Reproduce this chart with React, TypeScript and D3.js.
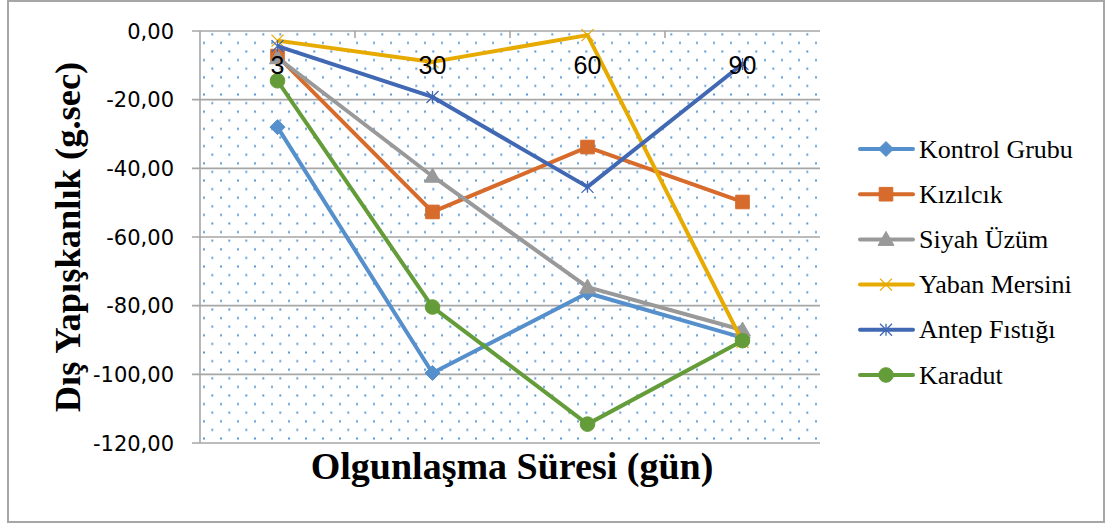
import React from 'react';
import * as d3 from 'd3';

const categories = ['3', '30', '60', '90'];
const seriesNames = ['Kontrol Grubu', 'Kızılcık', 'Siyah Üzüm', 'Yaban Mersini', 'Antep Fıstığı', 'Karadut'];
const kontrolGrubu = [-28.0, -99.6, -76.3, -89.3];
const kizilcik = [-7.3, -52.7, -33.8, -49.8];
const siyahUzum = [-7.8, -42.3, -74.6, -87.1];
const yabanMersini = [-2.8, -9.0, -1.2, -90.5];
const antepFistigi = [-4.4, -19.2, -45.4, -9.6];
const karadut = [-14.5, -80.4, -114.5, -90.2];
const yTicks = [0, -20, -40, -60, -80, -100, -120];

const seriesValues = [kontrolGrubu, kizilcik, siyahUzum, yabanMersini, antepFistigi, karadut];
const colors = ['#5590cc', '#d66b2b', '#999999', '#e6aa00', '#4168b3', '#639c38'];
const markerTypes = ['diamond', 'square', 'triangle', 'x', 'star', 'circle'];

const W = 1105, H = 526;
const plot = { left: 200, right: 820, top: 31, bottom: 443 };

function markerPath(type: string): string {
  const p = d3.path();
  switch (type) {
    case 'diamond': {
      const s = 7.5;
      p.moveTo(0, -s); p.lineTo(s, 0); p.lineTo(0, s); p.lineTo(-s, 0); p.closePath(); break;
    }
    case 'square': {
      const s = 6.8;
      p.rect(-s, -s, 2 * s, 2 * s); break;
    }
    case 'triangle': {
      const s = 8;
      p.moveTo(0, -s); p.lineTo(s, s * 0.75); p.lineTo(-s, s * 0.75); p.closePath(); break;
    }
    case 'circle':
      p.arc(0, 0, 7.3, 0, Math.PI * 2); break;
    case 'x': {
      const s = 6;
      p.moveTo(-s, -s); p.lineTo(s, s); p.moveTo(s, -s); p.lineTo(-s, s); break;
    }
    case 'star': {
      const s = 6;
      p.moveTo(-s, -s); p.lineTo(s, s); p.moveTo(s, -s); p.lineTo(-s, s); p.moveTo(0, -s); p.lineTo(0, s); break;
    }
  }
  return p.toString();
}

function Marker({ type, color, x, y }: { type: string; color: string; x: number; y: number }) {
  const stroked = type === 'x' || type === 'star';
  return (
    <path
      d={markerPath(type)}
      transform={`translate(${x},${y})`}
      fill={stroked ? 'none' : color}
      stroke={color}
      strokeWidth={stroked ? 1.3 : 1}
    />
  );
}

export default function App() {
  const x = d3.scaleBand<string>().domain(categories).range([plot.left, plot.right]);
  const cx = (c: string) => (x(c) as number) + x.bandwidth() / 2;
  const y = d3.scaleLinear().domain([-120, 0]).range([plot.bottom, plot.top]);
  const line = d3.line<[number, number]>().x(d => d[0]).y(d => d[1]);
  const fmt = (v: number) => v.toFixed(2).replace('.', ',');

  return (
    <svg width={W} height={H} style={{ position: 'absolute', left: 0, top: 0, background: '#fff' }}>
      <defs>
        <pattern id="dots" patternUnits="userSpaceOnUse" x={200} y={30} width={17} height={17.2}>
          <rect x={11.3} y={3.3} width={2} height={2} fill="#5b9bd5" />
          <rect x={3} y={11.9} width={2} height={2} fill="#5b9bd5" />
        </pattern>
      </defs>
      <rect x={8} y={1} width={1096} height={521} fill="#fff" stroke="#a6a6a6" strokeWidth={2} />
      <rect x={plot.left} y={plot.top} width={plot.right - plot.left} height={plot.bottom - plot.top} fill="url(#dots)" />

      {yTicks.map(t => (
        <g key={t}>
          <line x1={plot.left - 8} x2={plot.right} y1={y(t)} y2={y(t)} stroke="#a6a6a6" strokeWidth={1.6} />
          <text x={174} y={y(t) + 7.5} textAnchor="end" fontFamily="DejaVu Sans" fontSize={21} fill="#000">{fmt(t)}</text>
        </g>
      ))}
      <line x1={plot.left} x2={plot.left} y1={plot.top} y2={plot.bottom} stroke="#a6a6a6" strokeWidth={1.6} />
      {categories.slice(1).map(c => (
        <line key={c} x1={x(c) as number} x2={x(c) as number} y1={plot.top} y2={plot.top + 7} stroke="#a6a6a6" strokeWidth={1.6} />
      ))}

      {seriesValues.map((vals, i) => {
        const pts = vals.map((v, j) => [cx(categories[j]), y(v)] as [number, number]);
        return (
          <g key={seriesNames[i]}>
            <path d={line(pts) as string} fill="none" stroke={colors[i]} strokeWidth={4} strokeLinejoin="round" />
            {pts.map((p, j) => (
              <Marker key={j} type={markerTypes[i]} color={colors[i]} x={p[0]} y={p[1]} />
            ))}
          </g>
        );
      })}

      {categories.map(c => (
        <text key={c} x={cx(c)} y={74} textAnchor="middle" fontFamily="Liberation Sans" fontSize={25} fill="#000">{c}</text>
      ))}

      <text transform={`translate(80,${(plot.top + plot.bottom) / 2}) rotate(-90)`} textAnchor="middle" fontFamily="Liberation Serif" fontWeight="bold" fontSize={36.5} fill="#000">Dış Yapışkanlık (g.sec)</text>
      <text x={512} y={479} textAnchor="middle" fontFamily="Liberation Serif" fontWeight="bold" fontSize={38} fill="#000">Olgunlaşma Süresi (gün)</text>

      {seriesNames.map((name, i) => {
        const ly = 149 + i * 45.2;
        return (
          <g key={name}>
            <line x1={860} x2={913} y1={ly} y2={ly} stroke={colors[i]} strokeWidth={4} strokeLinecap="round" />
            <Marker type={markerTypes[i]} color={colors[i]} x={886} y={ly} />
            <text x={919} y={ly + 8.5} fontFamily="Liberation Serif" fontSize={26} fill="#000">{name}</text>
          </g>
        );
      })}
    </svg>
  );
}
